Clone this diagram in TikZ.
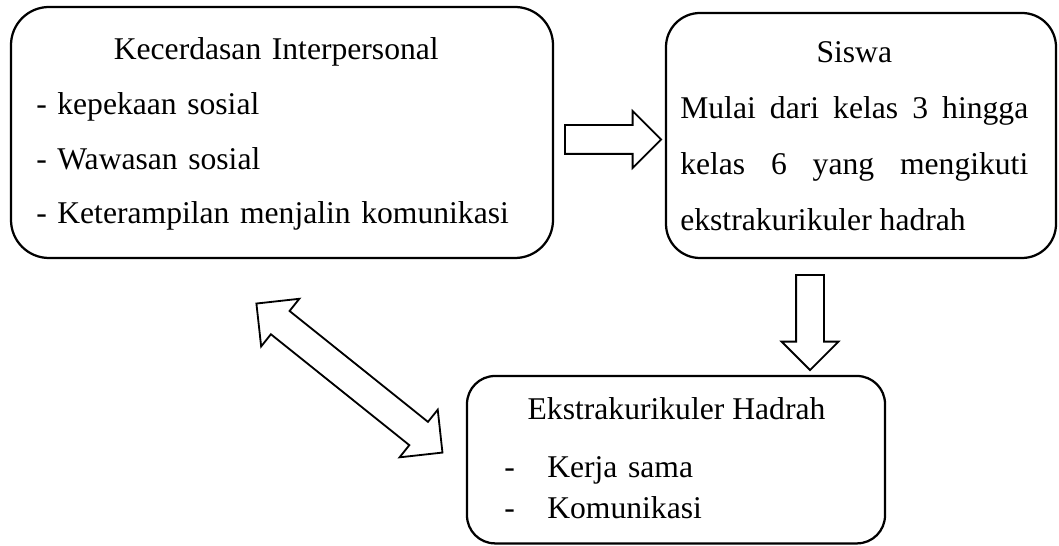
\documentclass[tikz,border=0pt]{standalone}
\usepackage{fontspec}
\setmainfont{Liberation Serif}
\usepackage{tikz}
\usetikzlibrary{shapes.arrows,calc}

\begin{document}
\begin{tikzpicture}[font=\fontsize{22.5pt}{38.8pt}\selectfont,
  bx/.style={draw,line width=1.6pt,inner sep=0pt},
  txt/.style={inner sep=0pt,anchor=base west},
  blk/.style={single arrow,draw,line width=1.3pt,inner sep=0pt,
              single arrow tip angle=90,anchor=tail},
  dbl/.style={double arrow,draw,line width=1.3pt,inner sep=0pt,
              double arrow tip angle=90}]
\useasboundingbox (0,0) rectangle (26.475,13.625);
\node[bx,minimum width=13.55cm,minimum height=6.275cm,rounded corners=0.95cm] (kec) at (7.05,10.3125) {};
\node[bx,minimum width=9.75cm,minimum height=6.125cm,rounded corners=0.85cm] (siswa) at (21.525,10.2375) {};
\node[bx,minimum width=10.45cm,minimum height=4.185cm,rounded corners=0.7cm] (hadrah) at (16.9,2.1325) {};
\node[txt,text width=12cm,align=left] (kecT) at (0.9,12.125)
  {{\centering Kecerdasan Interpersonal\par}- kepekaan sosial\\- Wawasan sosial\\- Keterampilan menjalin komunikasi};
\node[txt,text width=8.7cm,align=justify,font=\fontsize{22.5pt}{39.6pt}\selectfont] (siswaT) at (17.0,12.05)
  {{\centering Siswa\par}Mulai dari kelas 3 hingga\linebreak kelas 6 yang mengikuti\linebreak ekstrakurikuler hadrah};
\node[inner sep=0pt,anchor=base] (hadT) at (16.9125,3.125) {Ekstrakurikuler Hadrah};
\node[txt,text width=5cm,align=left,font=\fontsize{22.5pt}{28.5pt}\selectfont] (hadL) at (12.6,1.675)
  {\makebox[1.075cm][l]{-}Kerja sama\\\makebox[1.075cm][l]{-}Komunikasi};
% block arrows
\node[blk,minimum height=2.4cm,minimum width=1.375cm,single arrow head extend=0.35cm,
  inner ysep=0.3375cm] (arrR) at ($(kec.east)+(0.25,-0.175)$) {};
\node[blk,rotate=-90,minimum height=2.375cm,minimum width=1.375cm,single arrow head extend=0.3625cm,
  inner ysep=0.325cm] (arrD) at ($(siswa.south)+(-1.275,-0.375)$) {};
\coordinate (dA) at ($(kec.south)+(-0.625,-1.125)$);
\coordinate (dB) at ($(hadrah.west)+(-0.6,0.1925)$);
\node[dbl,rotate=-38.7,minimum height=5.96cm,minimum width=1.48cm,double arrow head extend=0.39cm,
  inner ysep=0.35cm] (arrKH) at ($(dA)!0.5!(dB)$) {};
\end{tikzpicture}
\end{document}
